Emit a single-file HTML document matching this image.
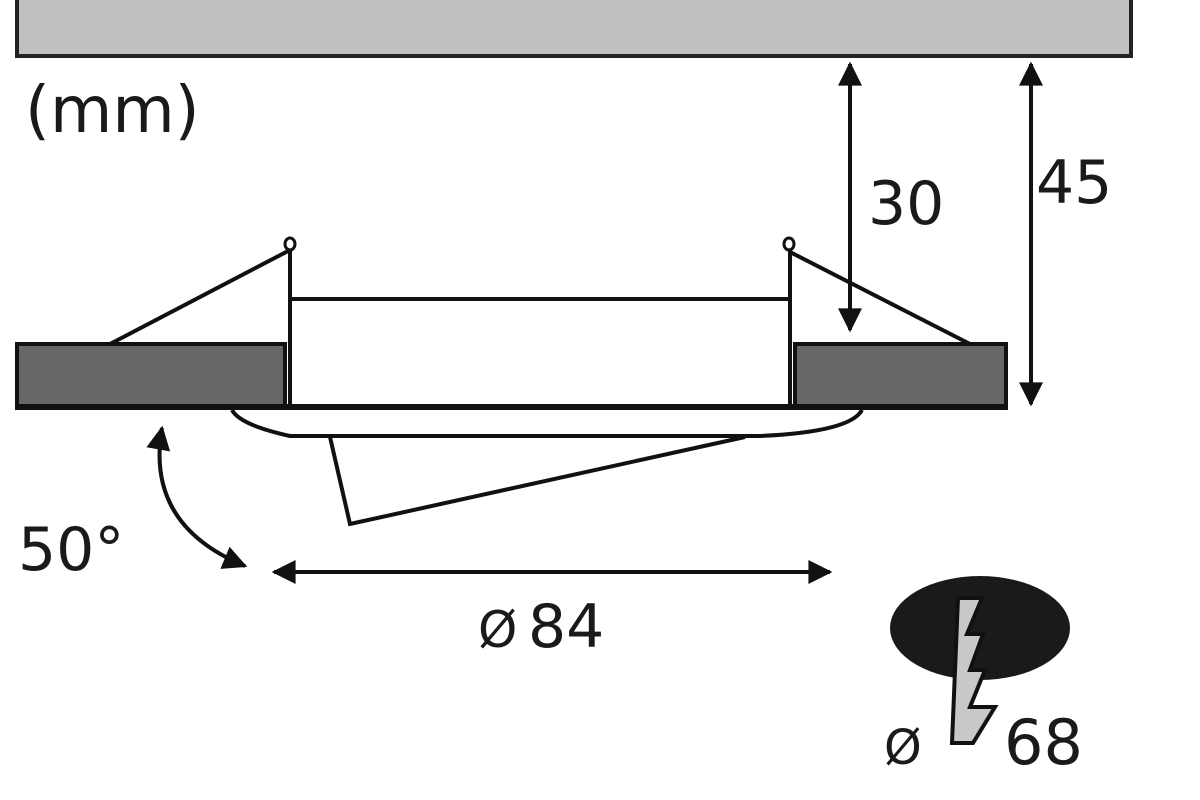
<!DOCTYPE html>
<html><head><meta charset="utf-8"><style>body{margin:0;background:#fff}svg{display:block}text{font-family:"DejaVu Sans","Liberation Sans",sans-serif;fill:#1a1a1a}</style></head>
<body>
<svg width="1200" height="800" viewBox="0 0 1200 800">
<defs>
<marker id="b" viewBox="0 0 10 10" refX="9" refY="5" markerWidth="28" markerHeight="24" orient="auto-start-reverse" markerUnits="userSpaceOnUse"><path d="M0,0 L10,5 L0,10z" fill="#111"/></marker></defs>
<rect x="17" y="-4" width="1114" height="60" fill="#c0c0c0" stroke="#222" stroke-width="4"/>
<text x="25" y="132" font-size="64">(mm)</text>
<rect x="17" y="344" width="268" height="63" fill="#666" stroke="#111" stroke-width="4"/>
<rect x="795" y="344" width="211" height="63" fill="#666" stroke="#111" stroke-width="4"/>
<line x1="15" y1="407" x2="1008" y2="407" stroke="#111" stroke-width="6"/>
<line x1="290" y1="248" x2="290" y2="407" stroke="#111" stroke-width="4"/>
<line x1="790" y1="248" x2="790" y2="407" stroke="#111" stroke-width="4"/>
<line x1="290" y1="299" x2="790" y2="299" stroke="#111" stroke-width="4"/>
<ellipse cx="290" cy="244" rx="5" ry="6" fill="#fff" stroke="#111" stroke-width="3"/>
<ellipse cx="789" cy="244" rx="5" ry="6" fill="#fff" stroke="#111" stroke-width="3"/>
<line x1="290" y1="250" x2="110" y2="344" stroke="#111" stroke-width="4"/>
<line x1="790" y1="252" x2="970" y2="344" stroke="#111" stroke-width="4"/>
<path d="M232,410 Q240,425 290,436 L760,436 Q850,432 862,410" fill="none" stroke="#111" stroke-width="4"/>
<path d="M330,437 L350,524 L745,437" fill="none" stroke="#111" stroke-width="4"/>
<line x1="850" y1="64" x2="850" y2="330" stroke="#111" stroke-width="4" marker-start="url(#b)" marker-end="url(#b)"/>
<line x1="1031" y1="64" x2="1031" y2="404" stroke="#111" stroke-width="4" marker-start="url(#b)" marker-end="url(#b)"/>
<text x="868" y="224" font-size="60">30</text>
<text x="1036" y="203" font-size="60">45</text>
<line x1="274" y1="572" x2="830" y2="572" stroke="#111" stroke-width="4" marker-start="url(#b)" marker-end="url(#b)"/>
<text x="478" y="647" font-size="50">Ø</text>
<text x="528" y="647" font-size="60">84</text>
<path d="M162,428 Q145,525 245,566" fill="none" stroke="#111" stroke-width="4" marker-start="url(#b)" marker-end="url(#b)"/>
<text x="18" y="570" font-size="60">50°</text>
<ellipse cx="980" cy="628" rx="90" ry="52" fill="#1a1a1a"/>
<path d="M958,598 L982,598 L967,634 L983,634 L970,670 L985,670 L970,707 L995,707 L973,743 L952,743 Z" fill="#c8c8c8" stroke="#111" stroke-width="4"/>
<text x="884" y="764" font-size="48">Ø</text>
<text x="1004" y="764" font-size="62">68</text>
</svg>
</body></html>
